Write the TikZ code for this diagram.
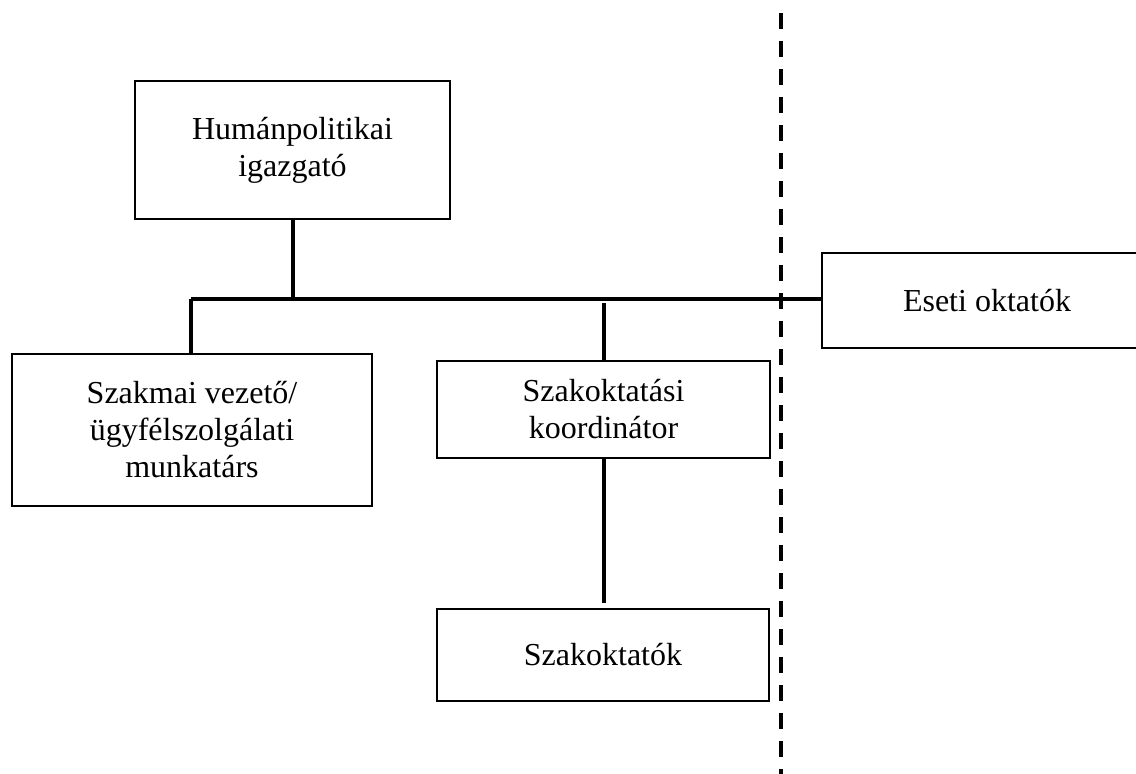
\documentclass[tikz,border=0pt]{standalone}
\usepackage{fontspec}
\setmainfont{Liberation Serif}
\tikzset{
  unit/.style={draw, line width=1.8pt, align=center, inner sep=0pt},
  link/.style={line width=4pt},
}
\begin{document}
\begin{tikzpicture}[font=\fontsize{32}{37}\selectfont, x=1pt, y=-1pt]
\useasboundingbox (0,0) rectangle (1136,774);

\node[unit, minimum width=315, minimum height=138] (hr) at (292.5,150) {Humánpolitikai\\igazgató};
\node[unit, minimum width=360, minimum height=152] (prof) at (192,430) {Szakmai vezető/\\ügyfélszolgálati\\munkatárs};
\node[unit, minimum width=333, minimum height=97] (coord) at (603.5,409.5) {Szakoktatási\\koordinátor};
\node[unit, minimum width=332, minimum height=92] (teach) at (603,655) {Szakoktatók};
\node[unit, minimum width=330, minimum height=95] (ext) at (987,300.5) {Eseti oktatók};

\coordinate (busl) at (191,299);
\coordinate (busr) at (ext.west |- busl);

\begin{scope}[link]
\draw (hr.south) -- (hr.south |- busl);
\draw (busl) -- (busr);
\draw (busl) -- (busl |- prof.north);
\draw (coord.north |- 0,303) -- (coord.north);
\draw (coord.south) -- (coord.south |- 0,603);
\end{scope}

\draw[line width=4.5pt, dash pattern=on 16pt off 12pt] (781,13) -- (781,774);
\end{tikzpicture}
\end{document}
